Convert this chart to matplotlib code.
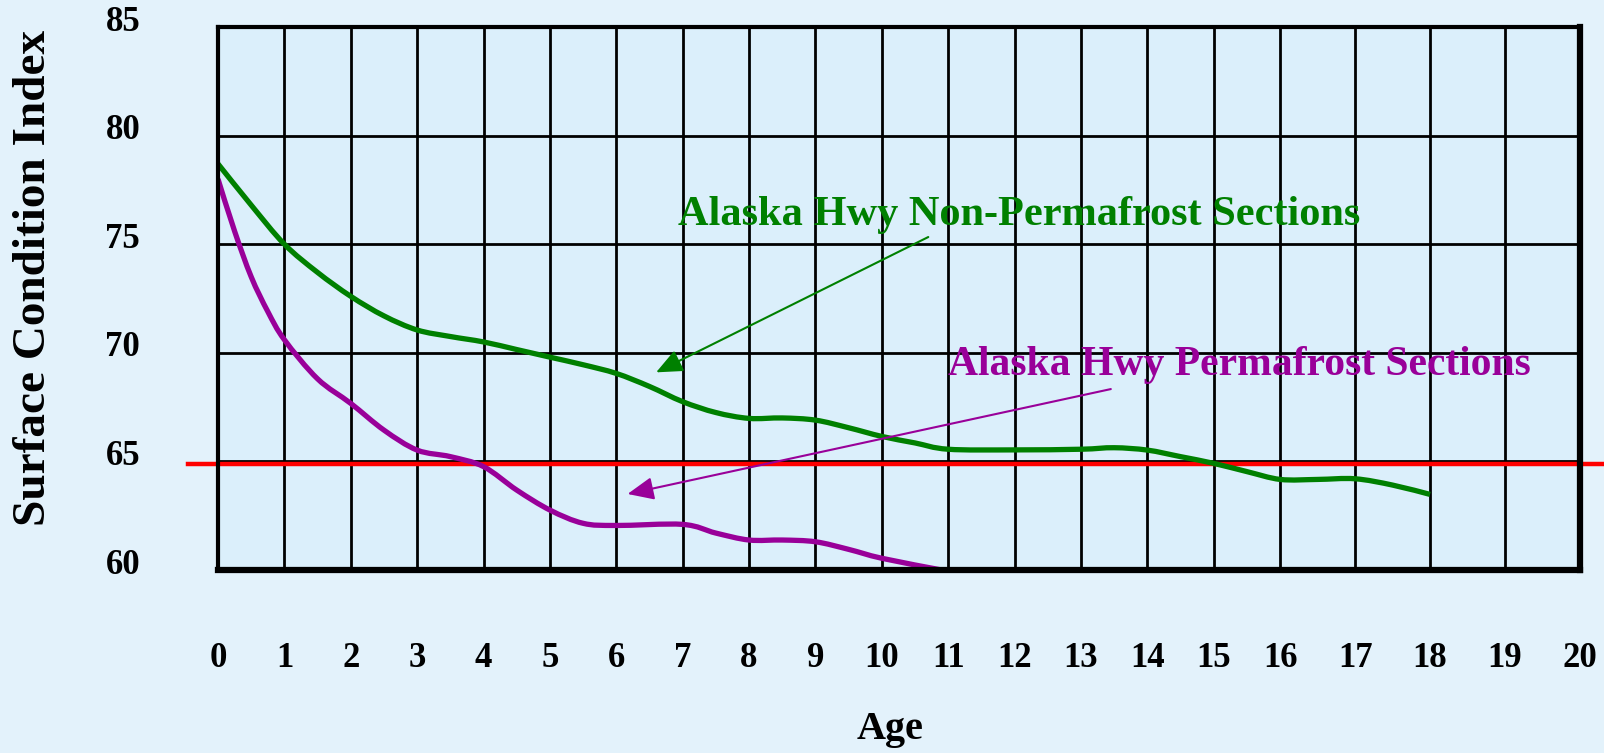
import numpy as np
import matplotlib.pyplot as plt
import matplotlib.transforms as mtransforms
from matplotlib.path import Path
from matplotlib.patches import PathPatch

# Surface condition index vs pavement age, Alaska Highway sections
age_non_pf = [0, 0.5, 1, 1.5, 2, 2.5, 3, 3.5, 4, 4.5, 5, 5.5, 6, 6.5, 7, 7.5, 8, 8.5, 9,
              9.5, 10, 10.5, 11, 12, 13, 13.5, 14, 14.5, 15, 15.5, 16, 16.5, 17, 17.5, 18]
sci_non_pf = [78.7, 76.8, 75.0, 73.7, 72.6, 71.7, 71.05, 70.75, 70.5, 70.15, 69.8, 69.45, 69.05,
              68.45, 67.75, 67.25, 66.98, 67.0, 66.9, 66.55, 66.15, 65.85, 65.56, 65.53, 65.56,
              65.63, 65.52, 65.22, 64.91, 64.53, 64.17, 64.17, 64.2, 63.91, 63.48]

age_pf = [0, 0.25, 0.5, 0.75, 1, 1.5, 2, 2.5, 3, 3.5, 4, 4.5, 5, 5.5, 6, 7, 7.5, 8, 8.5, 9,
          9.5, 10, 10.9]
sci_pf = [78.0, 75.6, 73.5, 71.9, 70.6, 68.8, 67.67, 66.44, 65.52, 65.22, 64.76, 63.68, 62.76,
          62.15, 62.05, 62.1, 61.7, 61.38, 61.38, 61.3, 60.95, 60.54, 60.0]

threshold = 64.9

x_ticks = list(range(0, 21))
y_ticks = [60, 65, 70, 75, 80, 85]

label_non_pf = 'Alaska Hwy Non-Permafrost Sections'
label_pf = 'Alaska Hwy Permafrost Sections'

GREEN = '#008000'
PURPLE = '#990099'

# last four columns of the grid are a bit wider than the rest
k = 75 / 66.4


def fwd(x):
    x = np.asarray(x, dtype=float)
    return np.where(x <= 16, x, 16 + (x - 16) * k)


def inv(u):
    u = np.asarray(u, dtype=float)
    return np.where(u <= 16, u, 16 + (u - 16) / k)


def smooth_path(xs, ys):
    # catmull-rom through the points, written as cubic bezier segments
    p = np.column_stack([xs, ys]).astype(float)
    n = len(p)
    verts = [p[0]]
    codes = [Path.MOVETO]
    for i in range(n - 1):
        p0 = p[max(i - 1, 0)]
        p1 = p[i]
        p2 = p[i + 1]
        p3 = p[min(i + 2, n - 1)]
        c1 = p1 + (p2 - p0) / 6
        c2 = p2 - (p3 - p1) / 6
        verts += [c1, c2, p2]
        codes += [Path.CURVE4] * 3
    return Path(verts, codes)


plt.rcParams['font.family'] = ['Liberation Serif', 'DejaVu Serif']
plt.rcParams['font.weight'] = 'bold'

fig = plt.figure(figsize=(16.04, 7.53), dpi=100)
fig.patch.set_facecolor('#e3f2fb')
ax = fig.add_axes([218 / 1604, 1 - 570 / 753, 1362 / 1604, 543 / 753])
ax.set_facecolor('#dbeffb')
ax.set_xscale('function', functions=(fwd, inv))
ax.set_xlim(0, 20)
ax.set_ylim(60, 85)

for xv in x_ticks:
    ax.axvline(xv, color='black', lw=2, zorder=1)
for yv in y_ticks:
    ax.axhline(yv, color='black', lw=2, zorder=1)

# threshold line runs past both sides of the frame
ax.plot([-0.022, 1.06], [threshold, threshold], transform=ax.get_yaxis_transform(),
        color='#ff0000', lw=3.2, clip_on=False, zorder=3)

for xs, ys, col in [(age_non_pf, sci_non_pf, GREEN), (age_pf, sci_pf, PURPLE)]:
    ax.add_patch(PathPatch(smooth_path(xs, ys), fill=False, edgecolor=col, lw=3.8,
                           capstyle='butt', zorder=4))

ax.annotate('', xy=(6.6, 69.1), xytext=(10.7, 75.33),
            arrowprops=dict(arrowstyle='-|>,head_length=0.8,head_width=0.35',
                            color=GREEN, lw=1.5, mutation_scale=20, shrinkA=0, shrinkB=0),
            zorder=5)
ax.annotate('', xy=(6.17, 63.5), xytext=(13.45, 68.33),
            arrowprops=dict(arrowstyle='-|>,head_length=0.8,head_width=0.35',
                            color=PURPLE, lw=1.5, mutation_scale=20, shrinkA=0, shrinkB=0),
            zorder=5)
ax.text(6.93, 76.35, label_non_pf, color=GREEN, fontsize=30.5, fontweight='bold',
        ha='left', va='center', zorder=6)
ax.text(11.0, 69.45, label_pf, color=PURPLE, fontsize=30, fontweight='bold',
        ha='left', va='center', zorder=6)

ax.set_xticks(x_ticks)
ax.set_xticklabels([str(v) for v in x_ticks])
ax.set_yticks(y_ticks)
ax.set_yticklabels([str(v) for v in y_ticks])
ax.tick_params(axis='x', length=0, pad=52, labelsize=25)
ax.tick_params(axis='y', length=0, pad=56, labelsize=25)
for lab in ax.get_xticklabels() + ax.get_yticklabels():
    lab.set_fontweight('bold')

# y labels sit a little above their grid lines
lift = mtransforms.ScaledTranslation(0, 9 / 100, fig.dpi_scale_trans)
for lab in ax.get_yticklabels():
    lab.set_transform(lab.get_transform() + lift)

for side in ['top', 'left']:
    ax.spines[side].set_linewidth(3)
for side in ['bottom', 'right']:
    ax.spines[side].set_linewidth(4.5)
for sp in ax.spines.values():
    sp.set_zorder(7)

fig.text(34 / 1604, 1 - 278 / 753, 'Surface Condition Index', rotation=90,
         ha='center', va='center', fontsize=34, fontweight='bold')
fig.text(890 / 1604, 1 - 729 / 753, 'Age', ha='center', va='center',
         fontsize=29, fontweight='bold')

fig.savefig('out.png', dpi=100, facecolor=fig.get_facecolor())
